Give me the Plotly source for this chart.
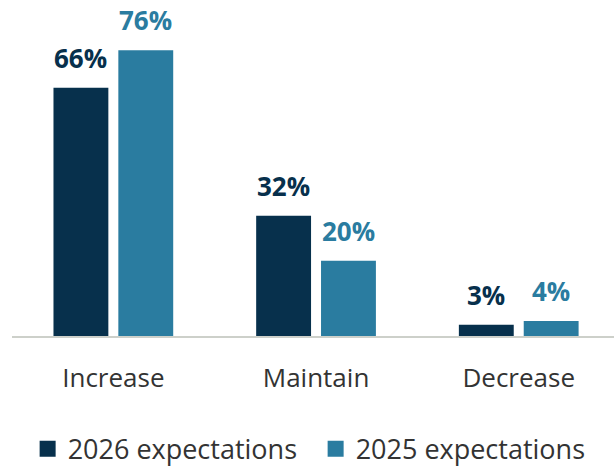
import plotly.graph_objects as go

# Expected change in spending, share of respondents
categories = ["Increase", "Maintain", "Decrease"]
series_names = ["2026 expectations", "2025 expectations"]
values_2026 = [66, 32, 3]
values_2025 = [76, 20, 4]

colors = ["#07304C", "#2A7CA0"]
series_values = [values_2026, values_2025]

BARGAP = 0.36
BARGROUPGAP = 0.154
FONT = "Open Sans"

fig = go.Figure()
for name, vals, col in zip(series_names, series_values, colors):
    fig.add_trace(go.Bar(
        x=categories, y=vals, name=name, legendgroup=name,
        marker=dict(color=col, line=dict(width=0)),
        showlegend=False, hoverinfo="skip",
    ))

# legend keys drawn as larger square swatches
for name, col in zip(series_names, colors):
    fig.add_trace(go.Scatter(
        x=[None], y=[None], name=name, legendgroup=name,
        mode="markers",
        marker=dict(symbol="square", size=16, color=col, line=dict(width=0)),
        showlegend=True, hoverinfo="skip",
    ))

# value labels above each bar, aligned with the grouped bar slots
n_series = len(series_values)
slot = (1 - BARGAP) / n_series
annotations = []
for s, (vals, col) in enumerate(zip(series_values, colors)):
    offset = -(1 - BARGAP) / 2 + slot * (s + 0.5)
    for i, v in enumerate(vals):
        annotations.append(dict(
            x=i + offset, y=v, xref="x", yref="y",
            text=f"<b>{v}%</b>", showarrow=False,
            yanchor="bottom", yshift=10,
            font=dict(family=FONT, size=26, color=col),
        ))

fig.update_layout(
    width=614, height=469,
    margin=dict(l=12, r=0, t=10, b=133),
    paper_bgcolor="white", plot_bgcolor="white",
    barmode="group", bargap=BARGAP, bargroupgap=BARGROUPGAP,
    font=dict(family=FONT, color="#333333"),
    annotations=annotations,
    showlegend=True,
    legend=dict(
        orientation="h", xref="container", yref="container",
        x=0.045, xanchor="left", y=0.042, yanchor="middle",
        font=dict(family=FONT, size=27, color="#333333"),
        entrywidth=243, entrywidthmode="pixels",
        itemsizing="trace",
        itemclick=False, itemdoubleclick=False,
    ),
)
fig.update_xaxes(
    type="category", range=[-0.5, 2.47],
    showline=True, linecolor="#CDD0CA", linewidth=2,
    ticks="", showgrid=False, zeroline=False,
    tickfont=dict(family=FONT, size=26, color="#333333"),
    ticklabelstandoff=18,
)
fig.update_yaxes(
    range=[0, 86.7], visible=False, showgrid=False, zeroline=False,
)

fig.write_html("out.html")
